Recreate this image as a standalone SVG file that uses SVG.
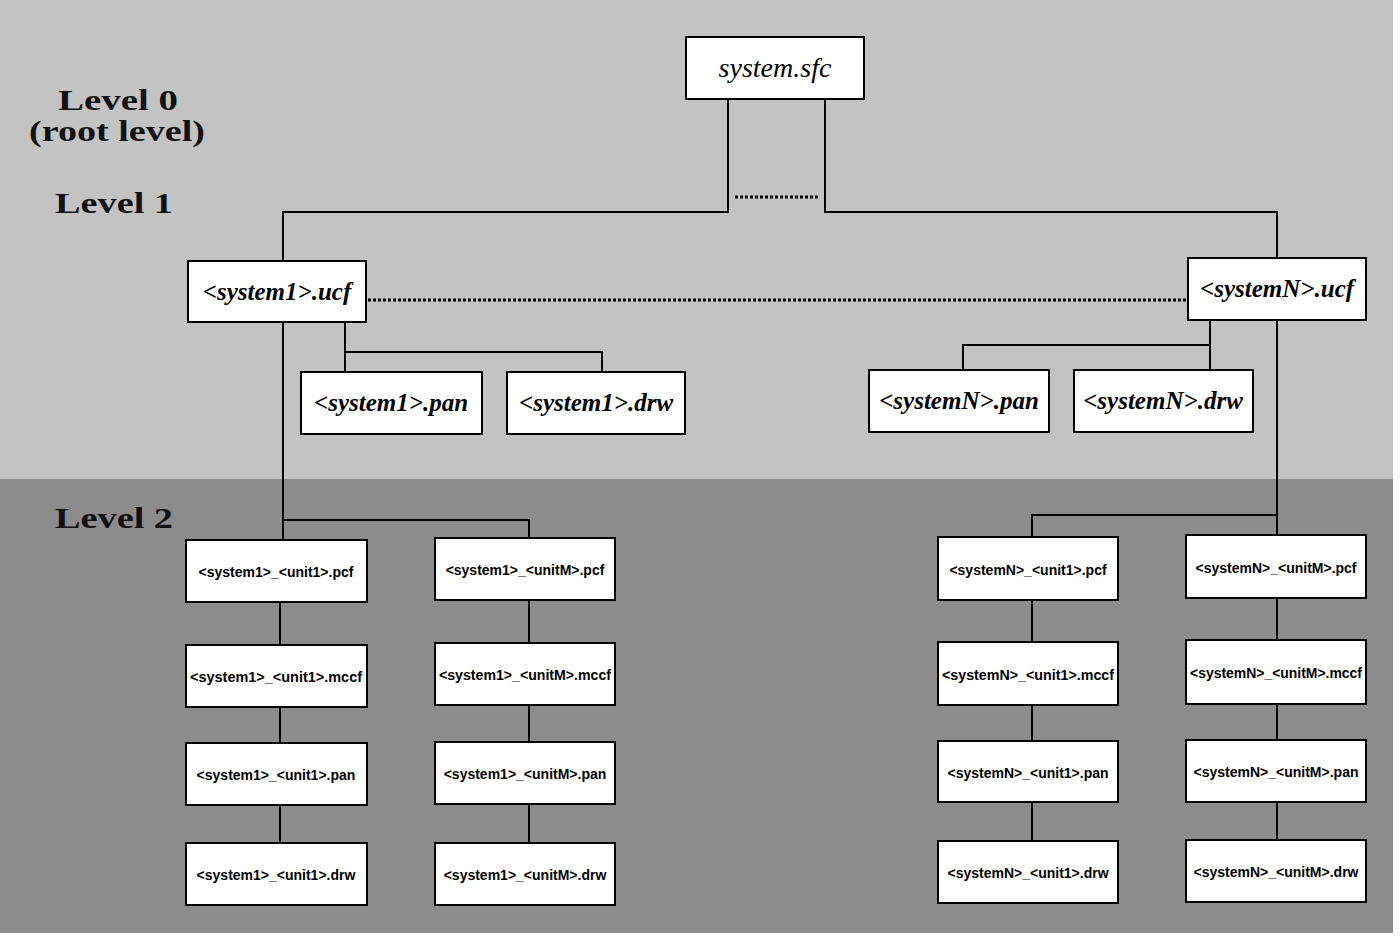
<svg xmlns="http://www.w3.org/2000/svg" width="1400" height="940" viewBox="0 0 1400 940">
<style>
.bg1{fill:#c3c3c3}
.bg2{fill:#8c8c8c}
.box{fill:#ffffff;stroke:#000;stroke-width:2}
.lvl{font-family:"Liberation Serif",serif;font-weight:bold;font-size:30px;fill:#111;text-anchor:middle}
.t0{font-family:"Liberation Serif",serif;font-style:italic;font-size:28px;fill:#000;text-anchor:middle}
.t1{font-family:"Liberation Serif",serif;font-style:italic;font-weight:bold;font-size:25px;fill:#000;text-anchor:middle}
.t2{font-family:"Liberation Sans",sans-serif;font-weight:bold;font-size:14px;fill:#000;text-anchor:middle}
.ln{stroke:#000;stroke-width:2;fill:none}
.dot{stroke:#000;stroke-width:3;stroke-dasharray:3 2;fill:none}
</style>
<rect class="bg1" x="0" y="0" width="1393" height="479"/>
<rect class="bg2" x="0" y="479" width="1393" height="454"/>
<text class="lvl" x="118" y="110" textLength="120" lengthAdjust="spacingAndGlyphs">Level 0</text>
<text class="lvl" x="117" y="141" textLength="176" lengthAdjust="spacingAndGlyphs">(root level)</text>
<text class="lvl" x="114" y="213" textLength="118" lengthAdjust="spacingAndGlyphs">Level 1</text>
<text class="lvl" x="114" y="528" textLength="118" lengthAdjust="spacingAndGlyphs">Level 2</text>
<g id="connectors">
<path class="ln" d="M728 99 V212 H283 V261"/>
<path class="ln" d="M825 99 V212 H1277 V258"/>
<path class="dot" d="M735 197 H820"/>
<path class="dot" d="M368 300 H1186"/>
<path class="ln" d="M345 322 V352 H602 V372"/>
<path class="ln" d="M345 352 V372"/>
<path class="ln" d="M1210 320 V345 H963 V370"/>
<path class="ln" d="M1210 345 V370"/>
<path class="ln" d="M283 322 V520 H529 V539"/>
<path class="ln" d="M283 520 V540"/>
<path class="ln" d="M1277 320 V515 H1032 V537"/>
<path class="ln" d="M1277 515 V535"/>
<path class="ln" d="M280 602 V645 M280 707 V743 M280 805 V843"/>
<path class="ln" d="M529 600 V643 M529 705 V742 M529 804 V843"/>
<path class="ln" d="M1032 600 V642 M1032 705 V741 M1032 802 V841"/>
<path class="ln" d="M1277 598 V640 M1277 704 V740 M1277 802 V840"/>
</g>
<g id="n-system-sfc"><rect class="box" x="686" y="37" width="178" height="62"/><text class="t0" x="775" y="77">system.sfc</text></g>
<g id="n-s1-ucf"><rect class="box" x="188" y="261" width="178" height="61"/><text class="t1" x="277" y="300">&lt;system1&gt;.ucf</text></g>
<g id="n-sN-ucf"><rect class="box" x="1188" y="258" width="178" height="62"/><text class="t1" x="1277" y="297">&lt;systemN&gt;.ucf</text></g>
<g id="n-s1-pan"><rect class="box" x="301" y="372" width="181" height="62"/><text class="t1" x="391" y="411">&lt;system1&gt;.pan</text></g>
<g id="n-s1-drw"><rect class="box" x="507" y="372" width="178" height="62"/><text class="t1" x="596" y="411">&lt;system1&gt;.drw</text></g>
<g id="n-sN-pan"><rect class="box" x="869" y="370" width="180" height="62"/><text class="t1" x="959" y="409">&lt;systemN&gt;.pan</text></g>
<g id="n-sN-drw"><rect class="box" x="1074" y="370" width="179" height="62"/><text class="t1" x="1163" y="409">&lt;systemN&gt;.drw</text></g>

<g id="n-s1-u1-pcf"><rect class="box" x="186" y="540" width="181" height="62"/><text class="t2" x="276" y="577">&lt;system1&gt;_&lt;unit1&gt;.pcf</text></g>
<g id="n-s1-u1-mccf"><rect class="box" x="186" y="645" width="181" height="62"/><text class="t2" x="276" y="682" textLength="172" lengthAdjust="spacingAndGlyphs">&lt;system1&gt;_&lt;unit1&gt;.mccf</text></g>
<g id="n-s1-u1-pan"><rect class="box" x="186" y="743" width="181" height="62"/><text class="t2" x="276" y="780">&lt;system1&gt;_&lt;unit1&gt;.pan</text></g>
<g id="n-s1-u1-drw"><rect class="box" x="186" y="843" width="181" height="62"/><text class="t2" x="276" y="880">&lt;system1&gt;_&lt;unit1&gt;.drw</text></g>

<g id="n-s1-uM-pcf"><rect class="box" x="435" y="538" width="180" height="62"/><text class="t2" x="525" y="575">&lt;system1&gt;_&lt;unitM&gt;.pcf</text></g>
<g id="n-s1-uM-mccf"><rect class="box" x="435" y="643" width="180" height="62"/><text class="t2" x="525" y="680" textLength="172" lengthAdjust="spacingAndGlyphs">&lt;system1&gt;_&lt;unitM&gt;.mccf</text></g>
<g id="n-s1-uM-pan"><rect class="box" x="435" y="742" width="180" height="62"/><text class="t2" x="525" y="779">&lt;system1&gt;_&lt;unitM&gt;.pan</text></g>
<g id="n-s1-uM-drw"><rect class="box" x="435" y="843" width="180" height="62"/><text class="t2" x="525" y="880">&lt;system1&gt;_&lt;unitM&gt;.drw</text></g>

<g id="n-sN-u1-pcf"><rect class="box" x="938" y="537" width="180" height="63"/><text class="t2" x="1028" y="575">&lt;systemN&gt;_&lt;unit1&gt;.pcf</text></g>
<g id="n-sN-u1-mccf"><rect class="box" x="938" y="642" width="180" height="63"/><text class="t2" x="1028" y="680" textLength="172" lengthAdjust="spacingAndGlyphs">&lt;systemN&gt;_&lt;unit1&gt;.mccf</text></g>
<g id="n-sN-u1-pan"><rect class="box" x="938" y="741" width="180" height="61"/><text class="t2" x="1028" y="778">&lt;systemN&gt;_&lt;unit1&gt;.pan</text></g>
<g id="n-sN-u1-drw"><rect class="box" x="938" y="841" width="180" height="62"/><text class="t2" x="1028" y="878">&lt;systemN&gt;_&lt;unit1&gt;.drw</text></g>

<g id="n-sN-uM-pcf"><rect class="box" x="1186" y="535" width="180" height="63"/><text class="t2" x="1276" y="573">&lt;systemN&gt;_&lt;unitM&gt;.pcf</text></g>
<g id="n-sN-uM-mccf"><rect class="box" x="1186" y="640" width="180" height="64"/><text class="t2" x="1276" y="678" textLength="172" lengthAdjust="spacingAndGlyphs">&lt;systemN&gt;_&lt;unitM&gt;.mccf</text></g>
<g id="n-sN-uM-pan"><rect class="box" x="1186" y="740" width="180" height="62"/><text class="t2" x="1276" y="777">&lt;systemN&gt;_&lt;unitM&gt;.pan</text></g>
<g id="n-sN-uM-drw"><rect class="box" x="1186" y="840" width="180" height="62"/><text class="t2" x="1276" y="877">&lt;systemN&gt;_&lt;unitM&gt;.drw</text></g>
</svg>
